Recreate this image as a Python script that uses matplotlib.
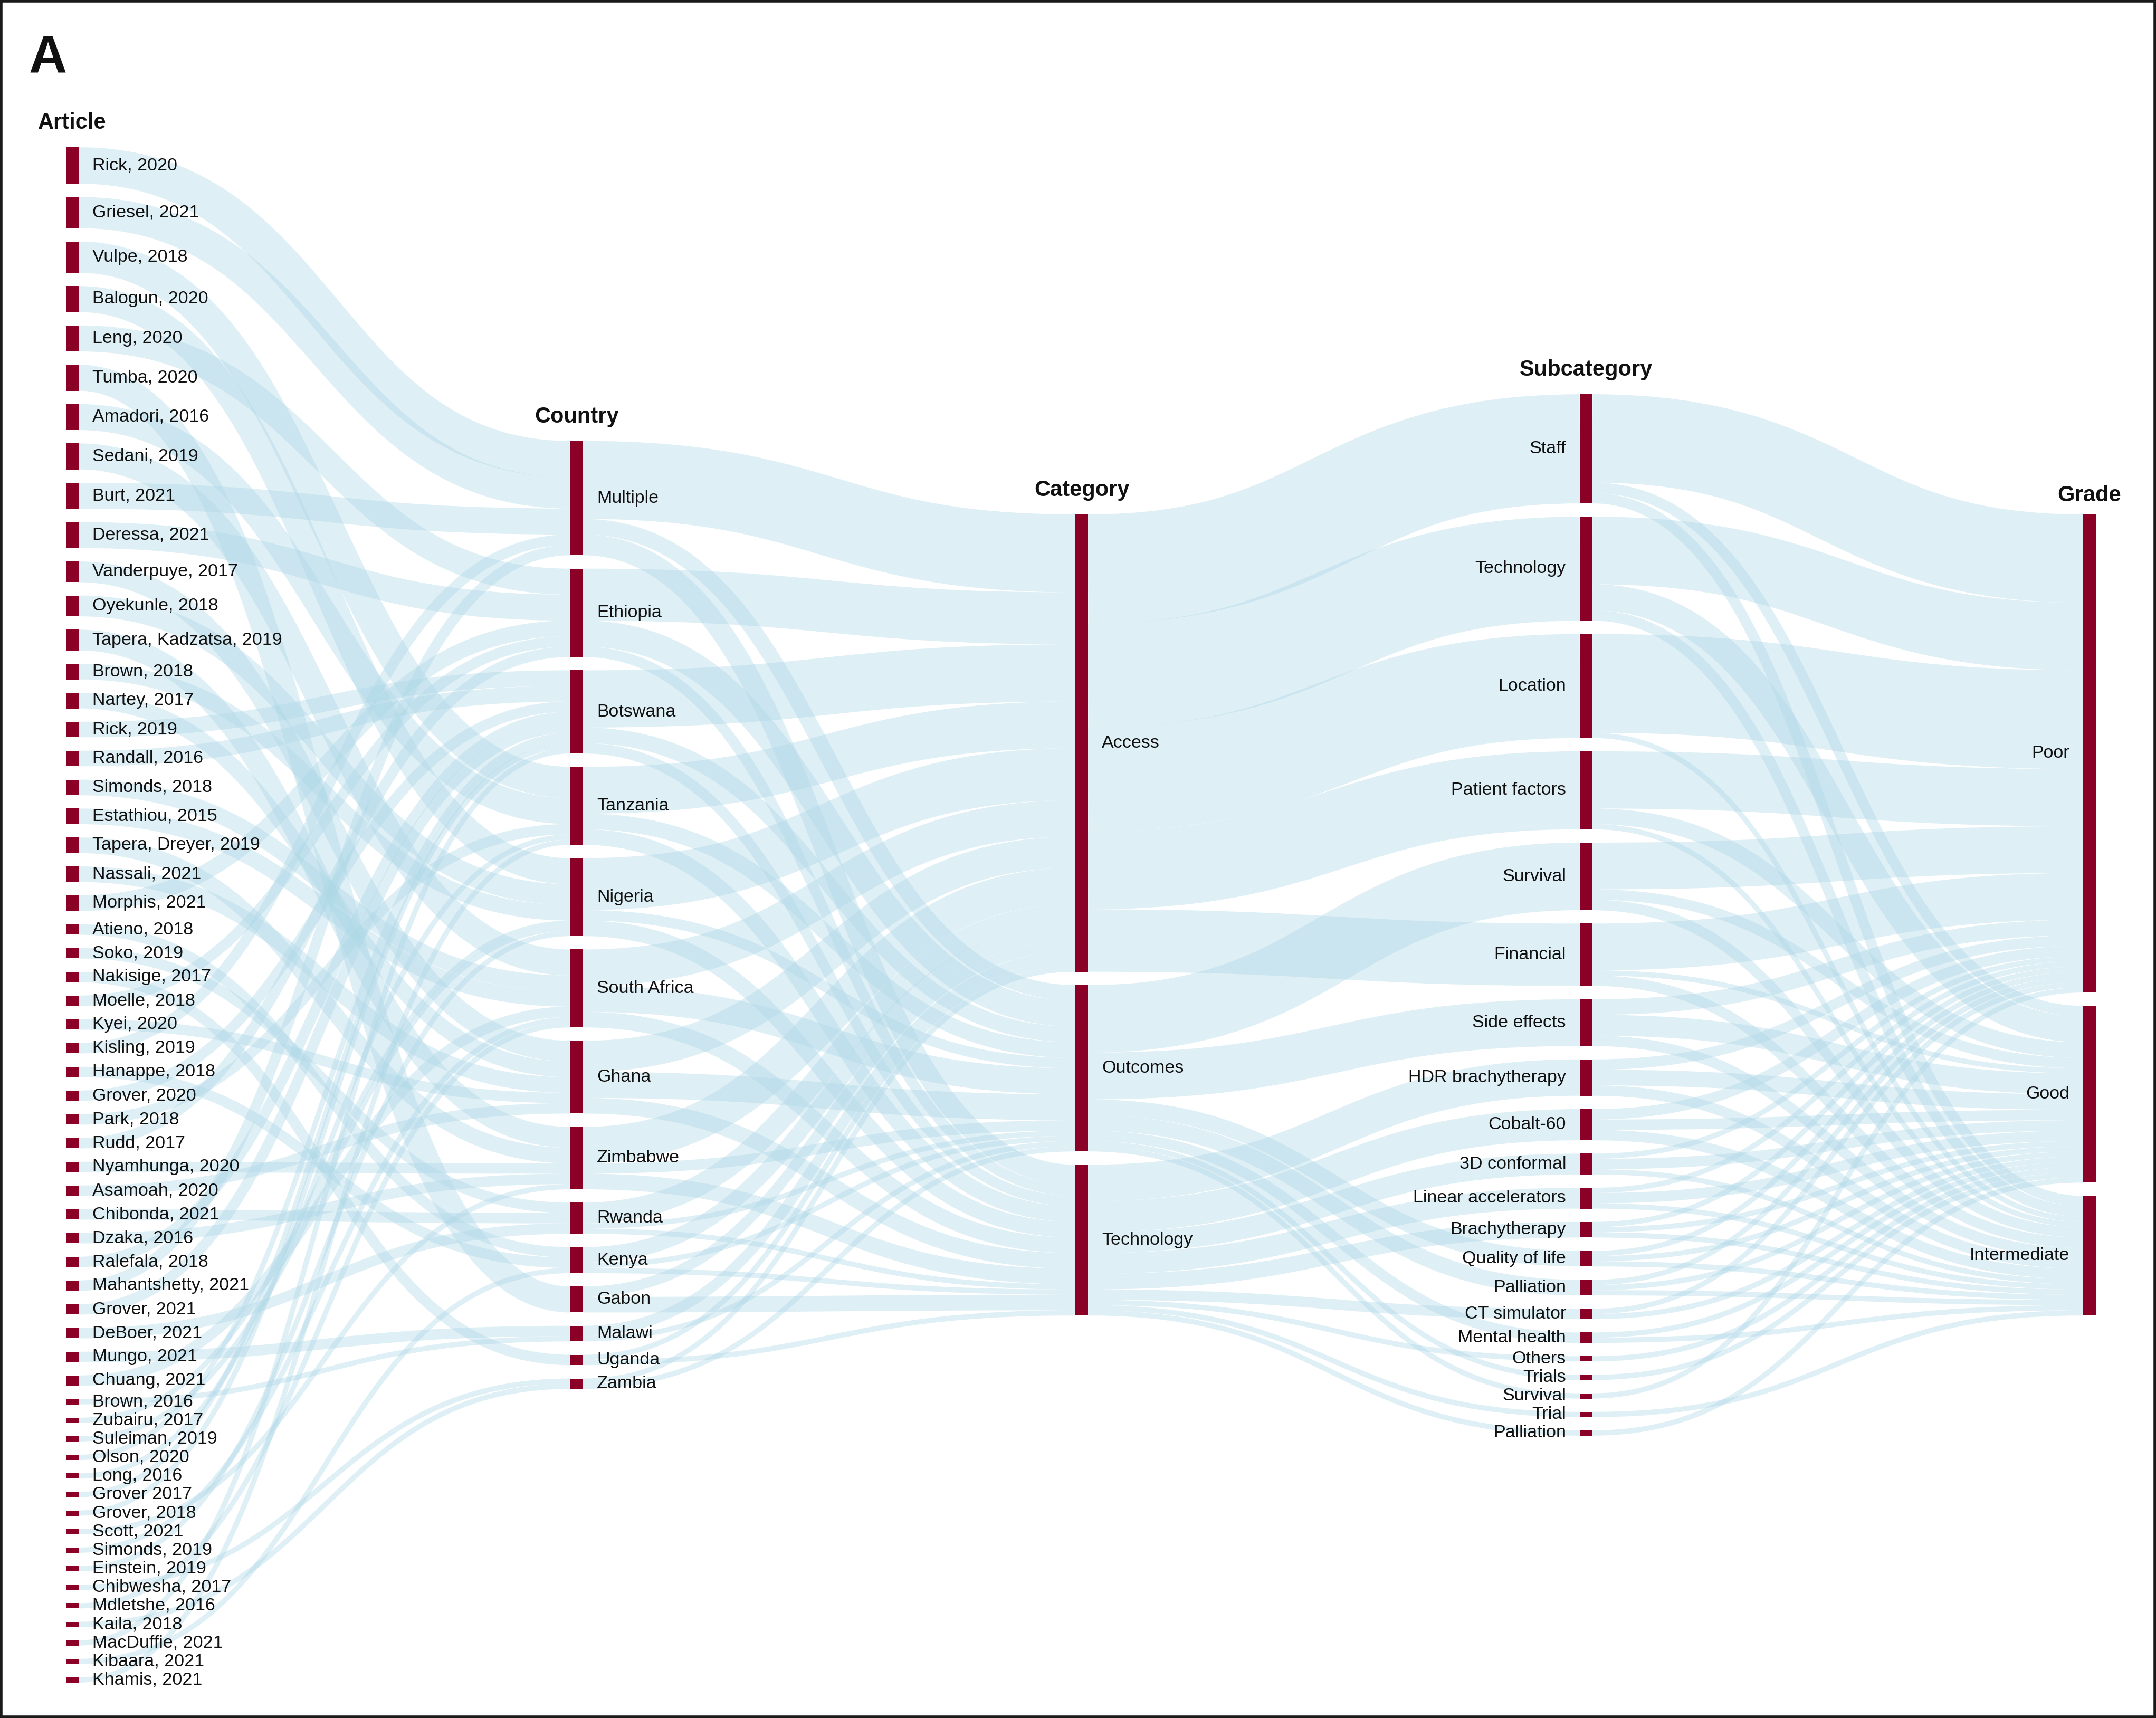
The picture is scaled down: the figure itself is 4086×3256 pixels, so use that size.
import matplotlib.pyplot as plt
import matplotlib.patches as patches
from matplotlib.path import Path

plt.rcParams['font.family'] = ['Liberation Sans', 'DejaVu Sans']

# --- datos -----------------------------------------------------------------
articles = ['Rick, 2020', 'Griesel, 2021', 'Vulpe, 2018', 'Balogun, 2020', 'Leng, 2020',
            'Tumba, 2020', 'Amadori, 2016', 'Sedani, 2019', 'Burt, 2021', 'Deressa, 2021',
            'Vanderpuye, 2017', 'Oyekunle, 2018', 'Tapera, Kadzatsa, 2019', 'Brown, 2018',
            'Nartey, 2017', 'Rick, 2019', 'Randall, 2016', 'Simonds, 2018', 'Estathiou, 2015',
            'Tapera, Dreyer, 2019', 'Nassali, 2021', 'Morphis, 2021', 'Atieno, 2018', 'Soko, 2019',
            'Nakisige, 2017', 'Moelle, 2018', 'Kyei, 2020', 'Kisling, 2019', 'Hanappe, 2018',
            'Grover, 2020', 'Park, 2018', 'Rudd, 2017', 'Nyamhunga, 2020', 'Asamoah, 2020',
            'Chibonda, 2021', 'Dzaka, 2016', 'Ralefala, 2018', 'Mahantshetty, 2021', 'Grover, 2021',
            'DeBoer, 2021', 'Mungo, 2021', 'Chuang, 2021', 'Brown, 2016', 'Zubairu, 2017',
            'Suleiman, 2019', 'Olson, 2020', 'Long, 2016', 'Grover 2017', 'Grover, 2018',
            'Scott, 2021', 'Simonds, 2019', 'Einstein, 2019', 'Chibwesha, 2017', 'Mdletshe, 2016',
            'Kaila, 2018', 'MacDuffie, 2021', 'Kibaara, 2021', 'Khamis, 2021']
article_n = [7, 6, 6, 5, 5, 5, 5, 5, 5, 5, 4, 4, 4, 3, 3, 3, 3, 3, 3, 3, 3, 3,
             2, 2, 2, 2, 2, 2, 2, 2, 2, 2, 2, 2, 2, 2, 2, 2, 2, 2, 2, 2,
             1, 1, 1, 1, 1, 1, 1, 1, 1, 1, 1, 1, 1, 1, 1, 1]
article_country = ['Multiple', 'Multiple', 'Tanzania', 'Nigeria', 'Ethiopia',
                   'Gabon', 'Tanzania', 'South Africa', 'Multiple', 'Ethiopia',
                   'Ghana', 'Nigeria', 'Zimbabwe', 'Nigeria',
                   'Ghana', 'Botswana', 'Botswana', 'South Africa', 'South Africa',
                   'Zimbabwe', 'Ghana', 'Ethiopia', 'Kenya', 'Rwanda',
                   'Uganda', 'Ethiopia', 'Ghana', 'Multiple', 'Kenya',
                   'Botswana', 'Tanzania', 'Ethiopia', 'Zimbabwe', 'Ghana',
                   'Rwanda', 'Zimbabwe', 'Botswana', 'Multiple', 'Botswana',
                   'Rwanda', 'Malawi', 'South Africa', 'Malawi', 'Nigeria',
                   'Nigeria', 'Botswana', 'Tanzania', 'Botswana', 'Botswana',
                   'Zimbabwe', 'South Africa', 'Nigeria', 'Zambia', 'South Africa',
                   'Zambia', 'Botswana', 'Kenya', 'Tanzania']

countries = ['Multiple', 'Ethiopia', 'Botswana', 'Tanzania', 'Nigeria', 'South Africa',
             'Ghana', 'Zimbabwe', 'Rwanda', 'Kenya', 'Gabon', 'Malawi', 'Uganda', 'Zambia']
categories = ['Access', 'Outcomes', 'Technology']
# filas: paises, columnas: Access, Outcomes, Technology
country_category = [[15, 3, 4], [10, 5, 2], [11, 3, 2], [9, 3, 3], [10, 2, 3],
                    [7, 5, 3], [6, 5, 3], [7, 2, 3], [4, 1, 1], [3, 1, 1],
                    [2, 0, 3], [2, 1, 0], [1, 0, 1], [1, 1, 0]]

subcats = ['Staff', 'Technology', 'Location', 'Patient factors', 'Survival', 'Financial',
           'Side effects', 'HDR brachytherapy', 'Cobalt-60', '3D conformal',
           'Linear accelerators', 'Brachytherapy', 'Quality of life', 'Palliation',
           'CT simulator', 'Mental health', 'Others', 'Trials', 'Survival', 'Trial', 'Palliation']
subcat_category = ['Access', 'Access', 'Access', 'Access', 'Outcomes', 'Access',
                   'Outcomes', 'Technology', 'Technology', 'Technology',
                   'Technology', 'Technology', 'Outcomes', 'Outcomes',
                   'Technology', 'Outcomes', 'Technology', 'Outcomes', 'Outcomes',
                   'Technology', 'Technology']
grades = ['Poor', 'Good', 'Intermediate']
# filas: subcategorias, columnas: Poor, Good, Intermediate
subcat_grade = [[17, 2, 2], [13, 5, 2], [19, 0, 1], [11, 3, 1], [9, 2, 2], [9, 1, 2],
                [3, 4, 2], [2, 3, 2], [2, 2, 2], [1, 2, 1], [1, 2, 1], [1, 1, 1],
                [1, 1, 1], [1, 1, 1], [1, 1, 0], [0, 1, 1], [0, 1, 0], [0, 1, 0],
                [1, 0, 0], [0, 0, 1], [0, 1, 0]]

headers = ['Article', 'Country', 'Category', 'Subcategory', 'Grade']

# --- estilo / geometria (pixeles) -----------------------------------------
W, H = 4086, 3256
col_x = [125, 1081, 2038, 2994, 3948]
header_off = [46, 46, 46, 46, 36]
node_w = 24
unit = 9.85
gap = 25.3
cy = 1734
node_color = '#8b0026'
link_color = '#add8e6'

# --- construir enlaces -----------------------------------------------------
# nodos: (columna, indice)
links = []
for i, c in enumerate(article_country):
    links.append(((0, i), (1, countries.index(c)), article_n[i]))
for i, row in enumerate(country_category):
    for j, v in enumerate(row):
        if v > 0:
            links.append(((1, i), (2, j), v))
for i, row in enumerate(subcat_grade):
    links.append(((2, categories.index(subcat_category[i])), (3, i), sum(row)))
for i, row in enumerate(subcat_grade):
    for j, v in enumerate(row):
        if v > 0:
            links.append(((3, i), (4, j), v))

col_names = [articles, countries, categories, subcats, grades]
size = {}
for (s, t, v) in links:
    size[s] = size.get(s, 0) + v
inflow = {}
for (s, t, v) in links:
    inflow[t] = inflow.get(t, 0) + v
for k, v in inflow.items():
    size[k] = max(size.get(k, 0), v)

# posiciones verticales (columnas centradas)
top = {}
for c, names in enumerate(col_names):
    vals = [size[(c, i)] for i in range(len(names))]
    span = sum(vals) * unit + (len(vals) - 1) * gap
    y = cy - span / 2.0
    for i, v in enumerate(vals):
        top[(c, i)] = y
        y += v * unit + gap

# orden de enlaces en cada nodo (como d3-sankey)
src_off = {k: 0.0 for k in top}
tgt_off = {k: 0.0 for k in top}
link_geo = []
for s, t, v in sorted(links, key=lambda l: (l[0], top[l[1]])):
    y0 = top[s] + src_off[s] + v * unit / 2.0
    src_off[s] += v * unit
    link_geo.append([s, t, v, y0, None])
for lg in sorted(link_geo, key=lambda l: (l[1], top[l[0]])):
    s, t, v = lg[0], lg[1], lg[2]
    lg[4] = top[t] + tgt_off[t] + v * unit / 2.0
    tgt_off[t] += v * unit

# --- dibujo ----------------------------------------------------------------
fig = plt.figure(figsize=(W / 100.0, H / 100.0), dpi=100)
ax = fig.add_axes([0, 0, 1, 1])
ax.set_xlim(0, W)
ax.set_ylim(H, 0)
ax.axis('off')

for s, t, v, y0, y1 in link_geo:
    x0 = col_x[s[0]] + node_w
    x1 = col_x[t[0]]
    xm = (x0 + x1) / 2.0
    path = Path([(x0, y0), (xm, y0), (xm, y1), (x1, y1)],
                [Path.MOVETO, Path.CURVE4, Path.CURVE4, Path.CURVE4])
    ax.add_patch(patches.PathPatch(path, fill=False, edgecolor=link_color, alpha=0.4,
                                   lw=v * unit * 0.72, capstyle='butt', zorder=1))

for c, names in enumerate(col_names):
    for i, name in enumerate(names):
        y = top[(c, i)]
        h = size[(c, i)] * unit
        ax.add_patch(patches.Rectangle((col_x[c], y), node_w, h, color=node_color,
                                       lw=0, zorder=3))
        if c < 3:
            ax.text(col_x[c] + node_w + 26, y + h / 2.0, name, fontsize=24.5,
                    ha='left', va='center', color='#111111', zorder=4)
        else:
            ax.text(col_x[c] - 26, y + h / 2.0, name, fontsize=24.5,
                    ha='right', va='center', color='#111111', zorder=4)
    ax.text(col_x[c] + node_w / 2.0, top[(c, 0)] - header_off[c], headers[c], fontsize=30,
            fontweight='bold', ha='center', va='center', color='#111111')

ax.text(55, 138, 'A', fontsize=72, fontweight='bold', ha='left', va='baseline',
        color='#111111')

# marco
ax.add_patch(patches.Rectangle((2, 2), W - 4, H - 4, fill=False, edgecolor='#1a1a1a',
                               lw=4, zorder=5))

fig.savefig('out.png', dpi=100)
